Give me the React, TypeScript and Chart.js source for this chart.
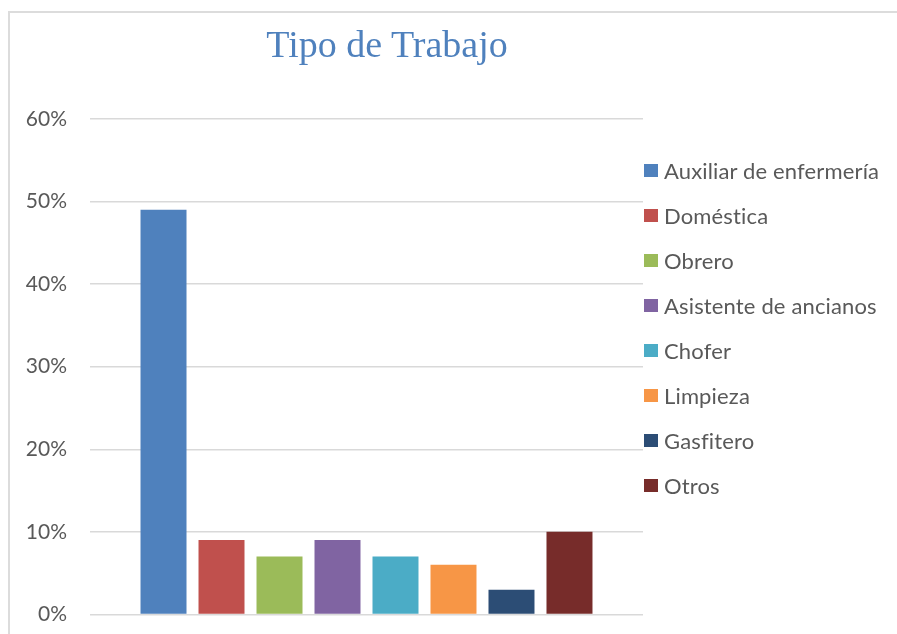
import React, { useEffect, useRef } from 'react';
import { Chart, registerables } from 'chart.js';

Chart.register(...registerables);

const chartTitle = 'Tipo de Trabajo';
const categories = [
  'Auxiliar de enfermería',
  'Doméstica',
  'Obrero',
  'Asistente de ancianos',
  'Chofer',
  'Limpieza',
  'Gasfitero',
  'Otros',
];
const values = [49, 9, 7, 9, 7, 6, 3, 10];
const colors = ['#4F81BD', '#C0504D', '#9BBB59', '#8064A2', '#4BACC6', '#F79646', '#2C4D75', '#772C2A'];
const yMin = 0;
const yMax = 60;
const yStep = 10;

const CANVAS_W = 887;
const CANVAS_H = 637;

export default function App() {
  const ref = useRef<HTMLCanvasElement | null>(null);

  useEffect(() => {
    document.body.style.overflow = 'hidden';
    const canvas = ref.current;
    if (!canvas) return;
    const chart = new Chart(canvas, {
      type: 'bar',
      data: {
        labels: [''],
        datasets: categories.map((c, i) => ({
          label: c,
          data: [values[i]],
          backgroundColor: colors[i],
          borderWidth: 0,
          categoryPercentage: 0.839,
          barPercentage: 0.793,
        })),
      },
      options: {
        animation: false,
        responsive: false,
        devicePixelRatio: 1,
        layout: { padding: { left: 0, top: 106, right: CANVAS_W - 633, bottom: 4 } },
        plugins: {
          legend: { display: false },
          title: { display: false },
          tooltip: { enabled: false },
        },
        scales: {
          x: { display: false, offset: true },
          y: {
            min: yMin,
            max: yMax,
            ticks: {
              stepSize: yStep,
              padding: 23,
              color: '#595959',
              font: { family: 'Lato', size: 21 },
              callback: (v: any) => v + '%',
            },
            grid: { color: '#d9d9d9', lineWidth: 1.5, drawTicks: false },
            border: { display: false },
            afterFit: (scale: any) => {
              scale.width = 80;
            },
          },
        },
      },
    });
    return () => chart.destroy();
  }, []);

  return (
    <div
      style={{
        position: 'fixed',
        left: 8,
        top: 11,
        width: 900,
        height: 660,
        border: '2px solid #dcdcdc',
        background: '#fff',
      }}
    >
      <canvas
        ref={ref}
        width={CANVAS_W}
        height={CANVAS_H}
        style={{ position: 'absolute', left: 0, top: 0, width: CANVAS_W, height: CANVAS_H }}
      />
      <div
        style={{
          position: 'absolute',
          left: 377 - 10 - 200,
          width: 420,
          top: 25 - 13,
          textAlign: 'center',
          fontFamily: '"Liberation Serif", "Times New Roman", serif',
          fontSize: 38,
          lineHeight: '38px',
          color: '#4F81BD',
          whiteSpace: 'nowrap',
        }}
      >
        {chartTitle}
      </div>
      <div style={{ position: 'absolute', left: 644 - 10, top: 170 - 13 - 22.5 }}>
        {categories.map((c, i) => (
          <div key={c} style={{ height: 45, display: 'flex', alignItems: 'center' }}>
            <span style={{ width: 14, height: 13, background: colors[i], display: 'inline-block', flex: 'none' }} />
            <span
              style={{
                marginLeft: 6,
                fontFamily: 'Lato',
                fontSize: 22,
                letterSpacing: '0.15px',
                color: '#595959',
                whiteSpace: 'nowrap',
              }}
            >
              {c}
            </span>
          </div>
        ))}
      </div>
    </div>
  );
}
